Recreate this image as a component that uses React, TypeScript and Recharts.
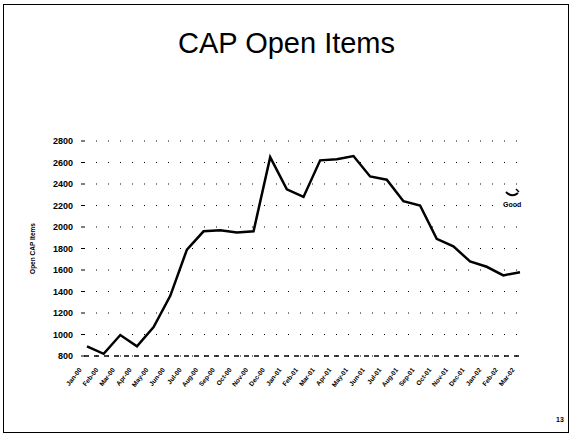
import React from "react";
import { LineChart, Line, XAxis, YAxis, CartesianGrid, ReferenceLine } from "recharts";

const months = [
  "Jan-00", "Feb-00", "Mar-00", "Apr-00", "May-00", "Jun-00", "Jul-00", "Aug-00", "Sep-00",
  "Oct-00", "Nov-00", "Dec-00", "Jan-01", "Feb-01", "Mar-01", "Apr-01", "May-01", "Jun-01",
  "Jul-01", "Aug-01", "Sep-01", "Oct-01", "Nov-01", "Dec-01", "Jan-02", "Feb-02", "Mar-02",
];
const openItems = [
  890, 820, 995, 890, 1070, 1360, 1790, 1960, 1970, 1950, 1960, 2650, 2350, 2280,
  2620, 2630, 2660, 2470, 2440, 2240, 2200, 1890, 1820, 1680, 1630, 1550, 1580,
];
const yTicks = [800, 1000, 1200, 1400, 1600, 1800, 2000, 2200, 2400, 2600, 2800];

const data = months.map((m, i) => ({ month: m, open: openItems[i] }));

const font = "'Liberation Sans', Arial, sans-serif";

function MonthTick(props: any) {
  const { x, y, payload } = props;
  return (
    <text
      x={x - 5}
      y={y + 6}
      textAnchor="end"
      fontSize={6.5}
      fontWeight="bold"
      fontFamily={font}
      fill="#000"
      transform={`rotate(-52, ${x - 5}, ${y + 6})`}
    >
      {payload.value}
    </text>
  );
}

export default function App() {
  return (
    <div style={{ position: "absolute", left: 0, top: 0, width: 573, height: 439, background: "#fff" }}>
      <div
        style={{
          position: "absolute",
          left: 3,
          top: 4,
          width: 566,
          height: 429,
          border: "1.5px solid #000",
          boxSizing: "border-box",
        }}
      />
      <div
        style={{
          position: "absolute",
          left: 0,
          width: 573,
          top: 27,
          textAlign: "center",
          fontFamily: font,
          fontSize: 29,
          color: "#000",
        }}
      >
        CAP Open Items
      </div>
      <div style={{ position: "absolute", left: 0, top: 0 }}>
        <LineChart width={573} height={439} data={data} margin={{ top: 141, right: 50, bottom: 33, left: 0 }}>
          <CartesianGrid vertical={false} stroke="#000" strokeDasharray="1 11" />
          <XAxis
            dataKey="month"
            interval={0}
            padding={{ left: 3, right: 3 }}
            height={50}
            axisLine={false}
            tickLine={false}
            tick={<MonthTick />}
          />
          <YAxis
            domain={[800, 2800]}
            ticks={yTicks}
            interval={0}
            width={84}
            axisLine={false}
            tickSize={3}
            tickMargin={8}
            tickLine={{ stroke: "#000" }}
            tick={{ fontSize: 9, fontWeight: "bold", fontFamily: font, fill: "#000" }}
            label={{
              value: "Open CAP Items",
              angle: -90,
              position: "insideLeft",
              dx: 28,
              style: { fontSize: 6.5, fontWeight: "bold", fontFamily: font, fill: "#000", textAnchor: "middle" },
            }}
          />
          <ReferenceLine y={800} stroke="#000" strokeWidth={1.5} strokeDasharray="5 5" />
          <Line
            type="linear"
            dataKey="open"
            stroke="#000"
            strokeWidth={2.5}
            dot={false}
            isAnimationActive={false}
          />
        </LineChart>
      </div>
      <svg style={{ position: "absolute", left: 0, top: 0 }} width={573} height={439}>
        <path d="M 506 192 Q 512 198 518 193" stroke="#000" strokeWidth={2} fill="none" />
        <path d="M 516 189 L 519 192" stroke="#000" strokeWidth={1.5} fill="none" />
      </svg>
      <div
        style={{
          position: "absolute",
          left: 503,
          top: 201,
          fontFamily: font,
          fontSize: 7,
          fontWeight: "bold",
          color: "#000",
        }}
      >
        Good
      </div>
      <div
        style={{
          position: "absolute",
          left: 556,
          top: 416,
          fontFamily: font,
          fontSize: 7,
          fontWeight: "bold",
          color: "#000",
        }}
      >
        13
      </div>
    </div>
  );
}
